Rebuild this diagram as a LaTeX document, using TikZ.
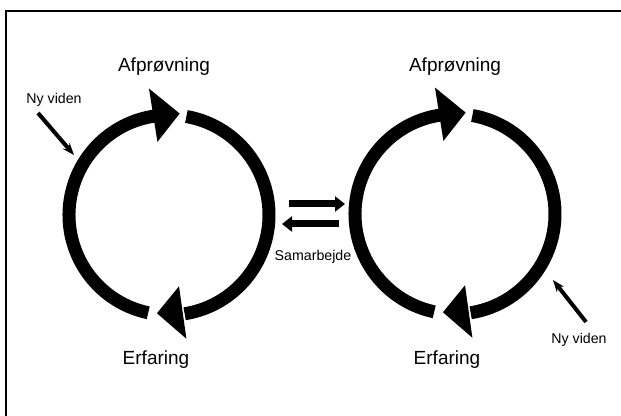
\documentclass[tikz,border=0pt]{standalone}
\usepackage{fontspec}
\setmainfont{Liberation Sans}
\usetikzlibrary{arrows.meta}

\begin{document}
\begin{tikzpicture}[x=0.5pt,y=0.5pt,
    ring/.style={line width=6.5pt},
    big/.style={font=\fontsize{9.5}{11}\selectfont},
    small/.style={font=\fontsize{7.1}{8.5}\selectfont},
    nyarrow/.style={line width=2pt,-{Stealth[length=6pt,width=4.5pt]}},
    samarrow/.style={line width=3.5pt,-{Triangle[length=5pt,width=7.5pt]}}]
  \useasboundingbox (0,0) rectangle (621,416);
  % frame
  \draw[line width=1.2pt] (6,0) -- (6,405) -- (621,405);
  % the two cycles
  \foreach \cx/\cy in {169/201,455/202} {
    \begin{scope}[shift={(\cx,\cy)}]
      \draw[ring] (258:100) arc[start angle=258,end angle=98,radius=100];
      \fill (99:74) -- (99:128) -- (84:102) -- cycle;
      \draw[ring] (80:100) arc[start angle=80,end angle=-81,radius=100];
      \fill (-82:72) -- (-82:125) -- (-97:99) -- cycle;
    \end{scope}
  }
  \node[big] (test1) at (164,349) {Afprøvning};
  \node[big] (erf1) at (156,56) {Erfaring};
  \node[big] (test2) at (455,349) {Afprøvning};
  \node[big] (erf2) at (447,56) {Erfaring};
  % ny viden
  \node[small] (ny1) at (54,316) {Ny viden};
  \node[small] (ny2) at (579,76) {Ny viden};
  \coordinate (ny1a) at (38,303);
  \coordinate (ny1b) at (74,261);
  \coordinate (ny2a) at (586,94);
  \coordinate (ny2b) at (553,136);
  \draw[nyarrow] (ny1a) -- (ny1b);
  \draw[nyarrow] (ny2a) -- (ny2b);
  % samarbejde
  \node[small] (sam) at (313,159) {Samarbejde};
  \coordinate (sam1a) at (289,212);
  \coordinate (sam1b) at (345,212);
  \coordinate (sam2a) at (339,192);
  \coordinate (sam2b) at (282,192);
  \draw[samarrow] (sam1a) -- (sam1b);
  \draw[samarrow] (sam2a) -- (sam2b);
\end{tikzpicture}
\end{document}
